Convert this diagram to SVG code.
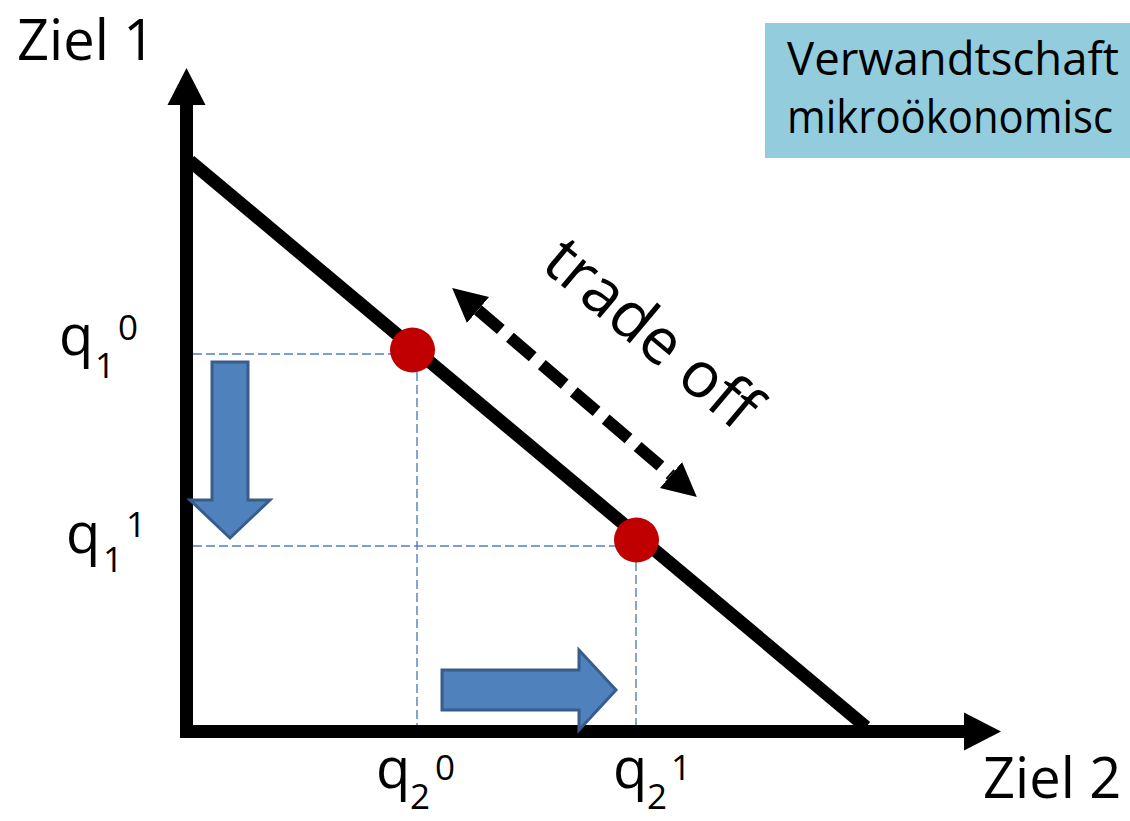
<svg xmlns="http://www.w3.org/2000/svg" width="1130" height="821" viewBox="0 0 1130 821">
<style>
  .t { font-family: "Open Sans", "Liberation Sans", sans-serif; fill: #000; }
  .big { font-size: 56px; }
  .sub { font-size: 35px; }
  .box { font-size: 46px; }
  .axis { stroke: #000; stroke-width: 13; fill: none; }
  .guide { stroke: #4f81bd; stroke-width: 1.4; stroke-dasharray: 9 4; fill: none; }
  .dot { fill: #c00000; }
  .blue { fill: #4f81bd; stroke: #385d8a; stroke-width: 3; stroke-linejoin: miter; }
</style>
<defs>
  <marker id="axisHead" markerUnits="userSpaceOnUse" markerWidth="40" markerHeight="40" viewBox="0 -20 40 40" refX="0" refY="0" orient="auto">
    <path d="M0,-19 L37,0 L0,19 Z" fill="#000"/>
  </marker>
  <marker id="toHead" markerUnits="userSpaceOnUse" markerWidth="36" markerHeight="36" viewBox="0 -18 36 36" refX="0" refY="0" orient="auto-start-reverse">
    <path d="M0,-17 L34,0 L0,17 Z" fill="#000"/>
  </marker>
</defs>
<rect width="1130" height="821" fill="#fff"/>

<g id="info-box">
  <rect x="765" y="23" width="365" height="135" fill="#93cddd"/>
  <text class="t box" x="787" y="75" textLength="332" lengthAdjust="spacingAndGlyphs">Verwandtschaft</text>
  <text class="t box" x="787" y="133" textLength="326" lengthAdjust="spacingAndGlyphs">mikroökonomisc</text>
</g>

<g id="guides">
  <line class="guide" x1="193" y1="354" x2="392" y2="354"/>
  <line class="guide" x1="417" y1="372" x2="417" y2="725"/>
  <line class="guide" x1="193" y1="546" x2="615" y2="546"/>
  <line class="guide" x1="636" y1="562" x2="636" y2="725"/>
</g>

<g id="connectors">
  <line id="y-axis" class="axis" x1="186.5" y1="738" x2="186.5" y2="105" marker-end="url(#axisHead)"/>
  <line id="x-axis" class="axis" x1="180" y1="731.5" x2="964" y2="731.5" marker-end="url(#axisHead)"/>
  <line id="frontier" class="axis" x1="190" y1="161" x2="866" y2="727"/>
  <line id="tradeoff-arrow" x1="478" y1="310" x2="671" y2="475" stroke="#000" stroke-width="12" stroke-dasharray="30 12" marker-start="url(#toHead)" marker-end="url(#toHead)"/>
</g>

<g id="point-0"><circle class="dot" cx="412.5" cy="350" r="22.5"/></g>
<g id="point-1"><circle class="dot" cx="636.5" cy="540" r="22.5"/></g>

<g id="arrow-down">
  <polygon class="blue" points="212,362 248,362 248,500 270,500 230,538 190,500 212,500"/>
</g>
<g id="arrow-right">
  <polygon class="blue" points="442,670 579,670 579,650 616,690 579,730 579,710 442,710"/>
</g>

<g id="label-tradeoff">
  <text class="t" font-size="64" text-anchor="middle" transform="translate(638,350) rotate(40)">trade off</text>
</g>

<g id="labels">
  <text class="t big" x="17" y="60">Ziel 1</text>
  <text class="t big" x="983" y="798">Ziel 2</text>

  <text class="t big" x="59" y="355">q</text>
  <text class="t sub" x="95" y="378">1</text>
  <text class="t sub" x="118" y="340">0</text>

  <text class="t big" x="66" y="553">q</text>
  <text class="t sub" x="103" y="572">1</text>
  <text class="t sub" x="126" y="537">1</text>

  <text class="t big" x="376" y="788">q</text>
  <text class="t sub" x="410" y="809">2</text>
  <text class="t sub" x="435" y="780">0</text>

  <text class="t big" x="613" y="788">q</text>
  <text class="t sub" x="647" y="809">2</text>
  <text class="t sub" x="671" y="780">1</text>
</g>
</svg>
